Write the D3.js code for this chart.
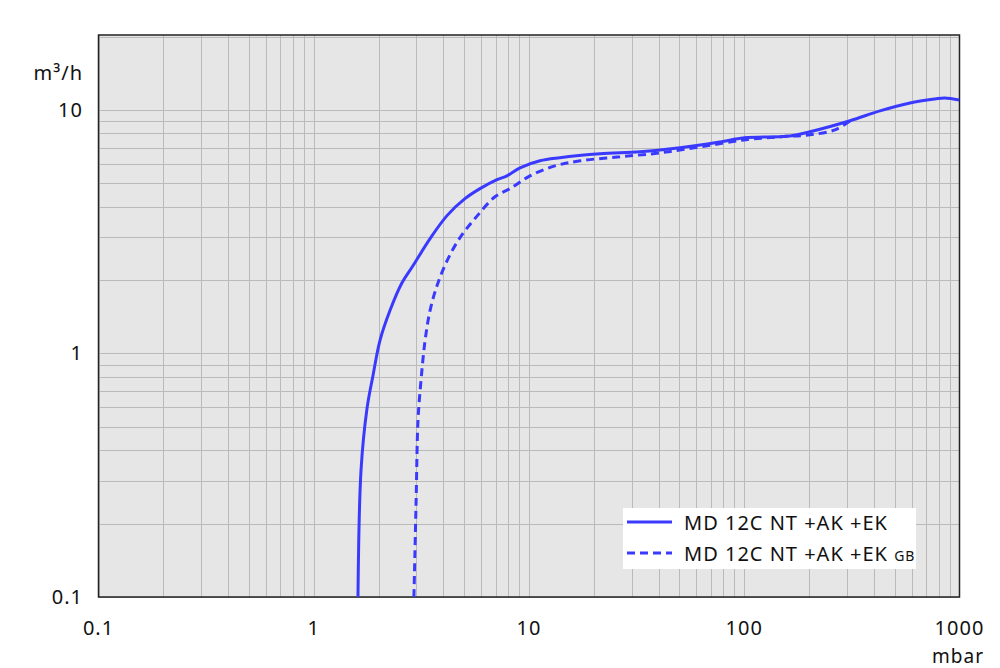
<!DOCTYPE html>
<html><head><meta charset="utf-8">
<script src="https://cdn.jsdelivr.net/npm/d3@7"></script>
<style>body{margin:0;background:#fff}text{font-family:"Noto Sans",sans-serif;fill:#111;letter-spacing:1px}</style>
</head><body><svg id="c" width="1000" height="668"></svg>
<script>
const xTicks=[0.1,1,10,100,1000];
const yTicks=[0.1,1,10];
const seriesNames=["MD 12C NT +AK +EK","MD 12C NT +AK +EK"];
const solidX=[1.605,1.658,1.768,1.885,2.03,2.26,2.57,2.89,3.47,4.16,5.04,5.92,7.10,7.90,9.08,11.25,13.9,21.4,32.8,50.3,77.3,100,163,202,310,427,589,769,853,1000];
const solidY=[0.1,0.331,0.595,0.812,1.13,1.50,1.95,2.29,2.96,3.68,4.32,4.75,5.17,5.36,5.78,6.18,6.36,6.60,6.73,6.99,7.39,7.68,7.82,8.13,9.02,9.91,10.68,11.09,11.2,10.99];
const dashX=[2.92,2.99,3.05,3.15,3.29,3.47,3.74,4.16,4.78,5.61,6.95,8.16,10.1,13.2,17.3,26.5,40.6,62.4,100,146,202,264,310];
const dashY=[0.1,0.25,0.531,0.775,1.13,1.50,1.90,2.40,2.99,3.58,4.40,4.75,5.36,5.89,6.18,6.42,6.66,7.05,7.53,7.75,7.90,8.28,9.0];

const svg=d3.select("#c");
const L=98.5,R=959.5,T=35,B=597;
const x=d3.scaleLog().domain([0.1,1000]).range([L,R]);
const y=d3.scaleLog().domain([0.1,20.3]).range([B,T]);
svg.append("rect").attr("x",L).attr("y",T).attr("width",R-L).attr("height",B-T).attr("fill","#e6e6e6");
const xg=[],yg=[];
for(let d=0.1;d<1000;d*=10)for(let k=1;k<10;k++)xg.push(d*k);
for(let d=0.1;d<100;d*=10)for(let k=1;k<10;k++){const v=d*k;if(v<=20.01)yg.push(v);}
svg.append("g").selectAll("line").data(xg).join("line").attr("x1",d=>Math.round(x(d))+0.5).attr("x2",d=>Math.round(x(d))+0.5).attr("y1",T).attr("y2",B).attr("stroke","#bababa").attr("stroke-width",1);
svg.append("g").selectAll("line").data(yg).join("line").attr("y1",d=>Math.round(y(d))+0.5).attr("y2",d=>Math.round(y(d))+0.5).attr("x1",L).attr("x2",R).attr("stroke","#bababa").attr("stroke-width",1);
svg.append("rect").attr("x",L).attr("y",T).attr("width",R-L).attr("height",B-T).attr("fill","none").attr("stroke","#222").attr("stroke-width",1.5);

svg.append("clipPath").attr("id","cl").append("rect").attr("x",L).attr("y",T).attr("width",R-L).attr("height",B-T);
const g=svg.append("g").attr("clip-path","url(#cl)");
const line=d3.line().x(d=>x(d[0])).y(d=>y(d[1])).curve(d3.curveCatmullRom);
g.append("path").attr("d",line(dashX.map((v,i)=>[v,dashY[i]]))).attr("fill","none").attr("stroke","#3a3aff").attr("stroke-width",3).attr("stroke-dasharray","8,5");
g.append("path").attr("d",line(solidX.map((v,i)=>[v,solidY[i]]))).attr("fill","none").attr("stroke","#3a3aff").attr("stroke-width",3);

const fmt=d=>String(d);
svg.append("g").selectAll("text").data(xTicks).join("text").attr("x",d=>x(d)).attr("y",635).attr("text-anchor","middle").attr("font-size",20).text(fmt);
svg.append("g").selectAll("text").data(yTicks).join("text").attr("x",83).attr("y",d=>y(d)+7).attr("text-anchor","end").attr("font-size",20).text(fmt);
svg.append("text").attr("x",83).attr("y",80).attr("text-anchor","end").attr("font-size",20).text("m³/h");
svg.append("text").attr("x",984).attr("y",663).attr("text-anchor","end").attr("font-size",19).text("mbar");

const lg=svg.append("g");
lg.append("rect").attr("x",623).attr("y",508).attr("width",293).attr("height",61).attr("fill","#fff");
lg.append("line").attr("x1",627).attr("x2",672).attr("y1",522).attr("y2",522).attr("stroke","#3a3aff").attr("stroke-width",3);
lg.append("line").attr("x1",627).attr("x2",672).attr("y1",553).attr("y2",553).attr("stroke","#3a3aff").attr("stroke-width",3).attr("stroke-dasharray","8,5");
lg.append("text").attr("x",684).attr("y",530).attr("font-size",20).text(seriesNames[0]);
const t2=lg.append("text").attr("x",684).attr("y",561).attr("font-size",20).text(seriesNames[1]+" ");
t2.append("tspan").attr("font-size",14).text("GB");
</script></body></html>
